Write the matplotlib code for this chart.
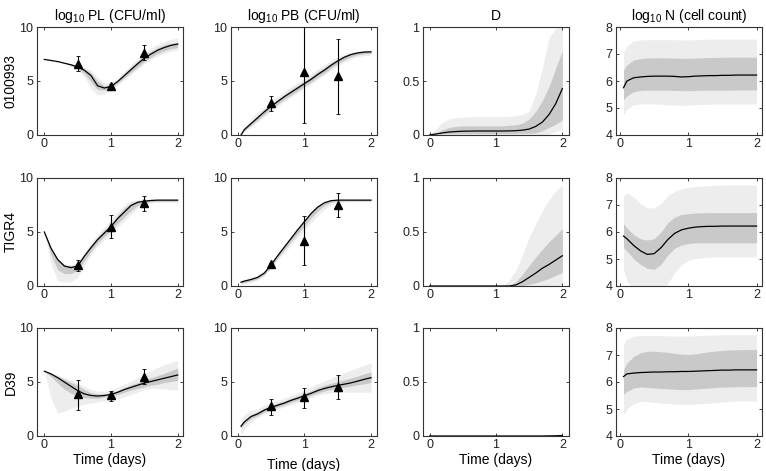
import numpy as np
import matplotlib
matplotlib.use('Agg')
import matplotlib.pyplot as plt

plt.rcParams['font.family'] = ['Liberation Sans', 'DejaVu Sans']
plt.rcParams['mathtext.fontset'] = 'custom'
plt.rcParams['mathtext.rm'] = 'Liberation Sans'

# time grids
t_a = [0.0, 0.1, 0.2, 0.3, 0.4, 0.5, 0.6, 0.7, 0.8, 0.9, 1.0,
       1.1, 1.2, 1.3, 1.4, 1.5, 1.6, 1.7, 1.8, 1.9, 2.0]
t_b = [0.05, 0.1, 0.2, 0.3, 0.4, 0.5, 0.6, 0.7, 0.8, 0.9, 1.0,
       1.1, 1.2, 1.3, 1.4, 1.5, 1.6, 1.7, 1.8, 1.9, 2.0]

strains = ['0100993', 'TIGR4', 'D39']
titles = ['log$_{10}$ PL (CFU/ml)', 'log$_{10}$ PB (CFU/ml)', 'D',
          'log$_{10}$ N (cell count)']

# observed data (t, mean, lower, upper)
obs_t = [0.5, 1.0, 1.5]
pl_obs = [[6.6, 4.55, 7.6], [1.95, 5.5, 7.7], [3.9, 3.8, 5.5]]
pl_lo  = [[5.9, 4.4, 6.9], [1.4, 4.45, 6.9], [2.45, 3.25, 4.8]]
pl_hi  = [[7.3, 4.7, 8.3], [2.45, 6.6, 8.3], [5.2, 4.2, 6.2]]
pb_obs = [[3.0, 5.8, 5.5], [2.05, 4.2, 7.5], [2.75, 3.6, 4.58]]
pb_lo  = [[2.25, 1.15, 1.9], [1.95, 1.9, 6.4], [1.97, 2.58, 3.38]]
pb_hi  = [[3.65, 10.5, 8.9], [2.15, 6.45, 8.65], [3.4, 4.43, 5.66]]

# ---- PL ----
pl1_med = [7.0, 6.9, 6.8, 6.65, 6.5, 6.3, 6.0, 5.5, 4.55, 4.35, 4.5, 4.95, 5.5, 6.05, 6.6, 7.1, 7.5, 7.85, 8.1, 8.3, 8.42]
pl1_ilo = [7.0, 6.9, 6.8, 6.65, 6.45, 6.15, 5.7, 4.9, 4.2, 4.15, 4.35, 4.8, 5.3, 5.8, 6.3, 6.8, 7.2, 7.55, 7.8, 8.0, 8.1]
pl1_ihi = [7.0, 6.9, 6.8, 6.65, 6.55, 6.4, 6.15, 5.75, 5.0, 4.55, 4.65, 5.1, 5.7, 6.3, 6.85, 7.35, 7.75, 8.1, 8.35, 8.5, 8.6]
pl1_olo = [7.0, 6.9, 6.8, 6.6, 6.35, 6.0, 5.4, 4.3, 3.7, 3.8, 4.2, 4.6, 5.1, 5.6, 6.1, 6.6, 7.0, 7.3, 7.55, 7.75, 7.85]
pl1_ohi = [7.0, 6.9, 6.8, 6.7, 6.6, 6.5, 6.3, 6.0, 5.3, 4.8, 4.85, 5.3, 5.9, 6.5, 7.1, 7.6, 8.05, 8.4, 8.65, 8.85, 9.0]

pl2_med = [5.0, 3.5, 2.45, 1.85, 1.7, 1.85, 2.75, 3.55, 4.3, 4.9, 5.5, 6.25, 6.85, 7.45, 7.75, 7.85, 7.92, 7.95, 7.95, 7.95, 7.95]
pl2_ilo = [5.0, 2.9, 1.5, 1.15, 1.15, 1.45, 2.35, 3.2, 4.0, 4.6, 5.15, 5.8, 6.4, 7.0, 7.45, 7.7, 7.8, 7.85, 7.85, 7.85, 7.85]
pl2_ihi = [5.0, 3.55, 2.5, 1.95, 1.85, 2.0, 2.95, 3.8, 4.55, 5.2, 5.8, 6.55, 7.2, 7.7, 7.9, 7.95, 7.98, 8.0, 8.0, 8.0, 8.0]
pl2_olo = [5.0, 2.0, 0.5, 0.35, 0.4, 0.8, 1.9, 2.9, 3.7, 4.3, 4.85, 5.45, 6.05, 6.65, 7.2, 7.5, 7.7, 7.75, 7.75, 7.75, 7.75]
pl2_ohi = [5.0, 3.6, 2.6, 2.05, 1.95, 2.15, 3.1, 4.0, 4.8, 5.45, 6.1, 6.85, 7.5, 7.9, 8.0, 8.0, 8.02, 8.05, 8.05, 8.05, 8.05]

pl3_med = [6.0, 5.75, 5.4, 5.0, 4.6, 4.2, 3.9, 3.75, 3.7, 3.75, 3.85, 4.05, 4.3, 4.5, 4.7, 4.9, 5.05, 5.2, 5.35, 5.5, 5.65]
pl3_ilo = [6.0, 5.5, 4.9, 4.35, 3.95, 3.7, 3.55, 3.5, 3.5, 3.6, 3.7, 3.85, 4.05, 4.25, 4.4, 4.55, 4.7, 4.8, 4.95, 5.05, 5.15]
pl3_ihi = [6.0, 5.8, 5.55, 5.25, 4.95, 4.7, 4.3, 4.0, 3.9, 3.9, 4.0, 4.2, 4.5, 4.75, 4.95, 5.2, 5.4, 5.6, 5.8, 6.05, 6.3]
pl3_olo = [6.0, 3.5, 2.1, 2.3, 2.55, 2.8, 2.95, 3.05, 3.15, 3.25, 3.3, 3.45, 3.65, 3.85, 4.05, 4.3, 4.4, 4.4, 4.35, 4.3, 4.25]
pl3_ohi = [6.0, 5.85, 5.65, 5.4, 5.15, 4.9, 4.6, 4.3, 4.15, 4.15, 4.25, 4.5, 4.8, 5.1, 5.4, 5.75, 6.05, 6.35, 6.6, 6.8, 7.0]

# ---- PB ----
pb1_med = [0.0, 0.5, 1.05, 1.6, 2.15, 2.65, 3.1, 3.55, 3.95, 4.35, 4.75, 5.15, 5.6, 6.0, 6.45, 6.85, 7.2, 7.45, 7.6, 7.68, 7.7]
pb1_ilo = [0.0, 0.4, 0.9, 1.4, 1.9, 2.4, 2.85, 3.3, 3.7, 4.1, 4.5, 4.9, 5.35, 5.75, 6.2, 6.6, 6.95, 7.25, 7.42, 7.52, 7.55]
pb1_ihi = [0.0, 0.6, 1.2, 1.8, 2.35, 2.85, 3.3, 3.75, 4.2, 4.6, 5.0, 5.4, 5.85, 6.25, 6.7, 7.05, 7.35, 7.55, 7.68, 7.75, 7.77]
pb1_olo = [0.0, 0.3, 0.75, 1.2, 1.7, 2.2, 2.65, 3.1, 3.5, 3.9, 4.3, 4.7, 5.15, 5.55, 6.0, 6.4, 6.75, 7.05, 7.25, 7.35, 7.4]
pb1_ohi = [0.1, 0.8, 1.5, 2.1, 2.65, 3.15, 3.6, 4.05, 4.45, 4.85, 5.25, 5.65, 6.1, 6.5, 6.9, 7.25, 7.5, 7.68, 7.78, 7.83, 7.85]

pb2_med = [0.35, 0.45, 0.6, 0.8, 1.2, 1.95, 2.8, 3.6, 4.4, 5.2, 5.95, 6.7, 7.3, 7.7, 7.9, 7.95, 7.95, 7.95, 7.95, 7.95, 7.95]
pb2_ilo = [0.25, 0.33, 0.47, 0.66, 1.05, 1.78, 2.6, 3.38, 4.12, 4.85, 5.55, 6.3, 6.95, 7.45, 7.75, 7.85, 7.88, 7.88, 7.88, 7.88, 7.88]
pb2_ihi = [0.45, 0.55, 0.7, 0.9, 1.3, 2.05, 2.92, 3.72, 4.52, 5.32, 6.08, 6.82, 7.42, 7.8, 7.95, 7.98, 7.98, 7.98, 7.98, 7.98, 7.98]
pb2_olo = [0.12, 0.2, 0.35, 0.55, 0.95, 1.65, 2.4, 3.1, 3.8, 4.5, 5.15, 5.85, 6.5, 7.1, 7.5, 7.7, 7.78, 7.8, 7.8, 7.8, 7.8]
pb2_ohi = [0.55, 0.65, 0.8, 1.0, 1.4, 2.12, 2.98, 3.8, 4.6, 5.4, 6.15, 6.9, 7.5, 7.85, 8.0, 8.02, 8.02, 8.02, 8.02, 8.02, 8.02]

pb3_med = [0.9, 1.3, 1.8, 2.05, 2.4, 2.65, 2.85, 3.05, 3.3, 3.5, 3.72, 3.95, 4.2, 4.4, 4.55, 4.68, 4.8, 4.92, 5.08, 5.25, 5.4]
pb3_ilo = [0.75, 1.12, 1.6, 1.88, 2.22, 2.48, 2.68, 2.88, 3.12, 3.32, 3.54, 3.76, 3.98, 4.16, 4.3, 4.42, 4.52, 4.62, 4.74, 4.84, 4.95]
pb3_ihi = [1.05, 1.48, 1.98, 2.24, 2.58, 2.84, 3.04, 3.25, 3.5, 3.72, 3.95, 4.2, 4.47, 4.7, 4.88, 5.04, 5.2, 5.36, 5.55, 5.75, 5.92]
pb3_olo = [0.1, 0.6, 1.3, 1.7, 2.05, 2.3, 2.5, 2.7, 2.9, 3.1, 3.35, 3.55, 3.75, 3.9, 4.0, 4.05, 4.05, 4.05, 4.05, 4.05, 4.05]
pb3_ohi = [1.5, 2.0, 2.35, 2.55, 2.85, 3.1, 3.3, 3.5, 3.75, 4.0, 4.25, 4.55, 4.85, 5.1, 5.35, 5.6, 5.85, 6.1, 6.35, 6.55, 6.75]

# ---- D ----
d1_med = [0.0, 0.01, 0.02, 0.028, 0.032, 0.035, 0.036, 0.037, 0.037, 0.037, 0.037, 0.037, 0.038, 0.04, 0.045, 0.055, 0.08, 0.12, 0.19, 0.29, 0.43]
d1_ilo = [0.0, 0.005, 0.01, 0.012, 0.013, 0.013, 0.013, 0.013, 0.013, 0.013, 0.013, 0.013, 0.014, 0.014, 0.015, 0.016, 0.02, 0.04, 0.07, 0.1, 0.14]
d1_ihi = [0.0, 0.02, 0.05, 0.07, 0.08, 0.085, 0.085, 0.085, 0.085, 0.085, 0.085, 0.085, 0.09, 0.095, 0.11, 0.15, 0.22, 0.32, 0.45, 0.62, 0.78]
d1_olo = [0.0, 0.0, 0.0, 0.0, 0.0, 0.0, 0.0, 0.0, 0.0, 0.0, 0.0, 0.0, 0.0, 0.0, 0.0, 0.0, 0.0, 0.0, 0.01, 0.03, 0.05]
d1_ohi = [0.0, 0.06, 0.12, 0.15, 0.16, 0.165, 0.17, 0.17, 0.17, 0.17, 0.17, 0.17, 0.17, 0.18, 0.19, 0.22, 0.38, 0.62, 0.9, 0.99, 1.0]

d2_med = [0.0, 0.0, 0.0, 0.0, 0.0, 0.0, 0.0, 0.0, 0.0, 0.0, 0.0, 0.0, 0.0, 0.01, 0.04, 0.08, 0.12, 0.165, 0.2, 0.24, 0.28]
d2_ilo = [0.0, 0.0, 0.0, 0.0, 0.0, 0.0, 0.0, 0.0, 0.0, 0.0, 0.0, 0.0, 0.0, 0.0, 0.005, 0.015, 0.03, 0.05, 0.07, 0.1, 0.125]
d2_ihi = [0.0, 0.0, 0.0, 0.0, 0.0, 0.0, 0.0, 0.0, 0.0, 0.0, 0.0, 0.0, 0.0, 0.04, 0.11, 0.19, 0.27, 0.34, 0.41, 0.47, 0.53]
d2_olo = [0.0] * 21
d2_ohi = [0.0, 0.0, 0.0, 0.0, 0.0, 0.0, 0.0, 0.0, 0.0, 0.0, 0.0, 0.0, 0.05, 0.15, 0.29, 0.45, 0.58, 0.7, 0.8, 0.88, 0.93]

d3_med = [0.0, 0.0, 0.0, 0.0, 0.0, 0.0, 0.0, 0.0, 0.0, 0.0, 0.0, 0.0, 0.0, 0.0, 0.0, 0.0, 0.0, 0.0, 0.001, 0.002, 0.004]
d3_ilo = [0.0] * 21
d3_ihi = [0.0, 0.0, 0.0, 0.0, 0.0, 0.0, 0.0, 0.0, 0.0, 0.0, 0.0, 0.0, 0.0, 0.0, 0.0, 0.0, 0.0, 0.0, 0.002, 0.005, 0.01]
d3_olo = [0.0] * 21
d3_ohi = [0.0, 0.0, 0.0, 0.0, 0.0, 0.0, 0.0, 0.0, 0.0, 0.0, 0.0, 0.0, 0.0, 0.0, 0.0, 0.0, 0.0, 0.0, 0.005, 0.012, 0.025]

# ---- N ----
n1_med = [5.75, 6.0, 6.12, 6.15, 6.17, 6.18, 6.18, 6.18, 6.17, 6.15, 6.16, 6.18, 6.19, 6.2, 6.2, 6.21, 6.21, 6.22, 6.22, 6.22, 6.22]
n1_ilo = [5.3, 5.45, 5.6, 5.65, 5.66, 5.66, 5.66, 5.66, 5.65, 5.64, 5.64, 5.65, 5.66, 5.66, 5.66, 5.66, 5.66, 5.67, 5.67, 5.67, 5.67]
n1_ihi = [6.4, 6.6, 6.78, 6.83, 6.85, 6.86, 6.86, 6.86, 6.85, 6.84, 6.84, 6.85, 6.86, 6.87, 6.87, 6.88, 6.88, 6.88, 6.88, 6.88, 6.88]
n1_olo = [4.75, 4.95, 5.12, 5.15, 5.16, 5.15, 5.14, 5.12, 5.11, 5.1, 5.11, 5.12, 5.13, 5.14, 5.15, 5.15, 5.15, 5.15, 5.15, 5.15, 5.15]
n1_ohi = [7.05, 7.3, 7.48, 7.52, 7.53, 7.53, 7.53, 7.53, 7.53, 7.52, 7.52, 7.53, 7.54, 7.55, 7.55, 7.55, 7.55, 7.55, 7.55, 7.55, 7.55]

n2_med = [5.85, 5.75, 5.5, 5.3, 5.17, 5.2, 5.42, 5.72, 5.95, 6.08, 6.14, 6.18, 6.2, 6.21, 6.21, 6.22, 6.22, 6.22, 6.22, 6.22, 6.22]
n2_ilo = [5.42, 5.3, 5.0, 4.8, 4.65, 4.62, 4.8, 5.15, 5.4, 5.52, 5.57, 5.6, 5.6, 5.6, 5.6, 5.6, 5.6, 5.6, 5.6, 5.6, 5.6]
n2_ihi = [6.3, 6.15, 5.9, 5.75, 5.7, 5.75, 6.0, 6.35, 6.55, 6.65, 6.68, 6.7, 6.71, 6.72, 6.72, 6.72, 6.72, 6.72, 6.72, 6.72, 6.72]
n2_olo = [4.6, 4.2, 3.8, 3.6, 3.6, 3.6, 3.75, 4.1, 4.5, 4.8, 4.95, 5.02, 5.05, 5.07, 5.08, 5.08, 5.08, 5.08, 5.08, 5.08, 5.08]
n2_ohi = [7.35, 7.45, 7.3, 7.05, 6.9, 6.89, 7.05, 7.35, 7.5, 7.6, 7.65, 7.68, 7.7, 7.72, 7.73, 7.74, 7.74, 7.74, 7.74, 7.74, 7.74]

n3_med = [6.2, 6.3, 6.33, 6.35, 6.36, 6.37, 6.37, 6.38, 6.38, 6.39, 6.39, 6.4, 6.41, 6.42, 6.43, 6.44, 6.44, 6.45, 6.45, 6.45, 6.45]
n3_ilo = [5.55, 5.65, 5.78, 5.82, 5.8, 5.78, 5.76, 5.75, 5.73, 5.72, 5.72, 5.74, 5.76, 5.78, 5.8, 5.81, 5.82, 5.82, 5.83, 5.83, 5.83]
n3_ihi = [6.45, 6.7, 6.95, 7.08, 7.14, 7.14, 7.12, 7.1, 7.06, 7.03, 7.02, 7.04, 7.08, 7.12, 7.15, 7.17, 7.18, 7.19, 7.2, 7.2, 7.2]
n3_olo = [4.8, 5.0, 5.2, 5.28, 5.28, 5.25, 5.22, 5.2, 5.18, 5.17, 5.17, 5.18, 5.2, 5.22, 5.24, 5.26, 5.28, 5.3, 5.3, 5.3, 5.3]
n3_ohi = [7.4, 7.6, 7.7, 7.72, 7.72, 7.72, 7.72, 7.71, 7.7, 7.7, 7.7, 7.71, 7.72, 7.73, 7.74, 7.75, 7.75, 7.75, 7.75, 7.75, 7.75]

panels = [
    [(t_a, pl1_med, pl1_ilo, pl1_ihi, pl1_olo, pl1_ohi),
     (t_b, pb1_med, pb1_ilo, pb1_ihi, pb1_olo, pb1_ohi),
     (t_a, d1_med, d1_ilo, d1_ihi, d1_olo, d1_ohi),
     (t_b, n1_med, n1_ilo, n1_ihi, n1_olo, n1_ohi)],
    [(t_a, pl2_med, pl2_ilo, pl2_ihi, pl2_olo, pl2_ohi),
     (t_b, pb2_med, pb2_ilo, pb2_ihi, pb2_olo, pb2_ohi),
     (t_a, d2_med, d2_ilo, d2_ihi, d2_olo, d2_ohi),
     (t_b, n2_med, n2_ilo, n2_ihi, n2_olo, n2_ohi)],
    [(t_a, pl3_med, pl3_ilo, pl3_ihi, pl3_olo, pl3_ohi),
     (t_b, pb3_med, pb3_ilo, pb3_ihi, pb3_olo, pb3_ohi),
     (t_a, d3_med, d3_ilo, d3_ihi, d3_olo, d3_ohi),
     (t_b, n3_med, n3_ilo, n3_ihi, n3_olo, n3_ohi)],
]

LIGHT = '#ededed'
DARK = '#c9c9c9'
W, H = 766, 471
col_left = [37, 231, 423, 616]
row_top = [27, 178, 328]
aw, ah = 146, 108
xlims = [(-0.11, 2.08), (-0.1, 2.09), (-0.1, 2.1), (-0.06, 2.08)]
ylims = [(0, 10), (0, 10), (0, 1), (4, 8)]
yticks = [[0, 5, 10], [0, 5, 10], [0, 0.5, 1], [4, 5, 6, 7, 8]]
yticklabels = [['0', '5', '10'], ['0', '5', '10'], ['0', '0.5', '1'],
               ['4', '5', '6', '7', '8']]

fig = plt.figure(figsize=(W / 100, H / 100), dpi=100)

for r in range(3):
    for c in range(4):
        ax = fig.add_axes([col_left[c] / W, 1 - (row_top[r] + ah) / H, aw / W, ah / H])
        t, med, ilo, ihi, olo, ohi = panels[r][c]
        ax.fill_between(t, olo, ohi, color=LIGHT, lw=0)
        ax.fill_between(t, ilo, ihi, color=DARK, lw=0)
        ax.plot(t, med, color='black', lw=0.9)
        if c == 0:
            m, lo, hi = pl_obs[r], pl_lo[r], pl_hi[r]
        elif c == 1:
            m, lo, hi = pb_obs[r], pb_lo[r], pb_hi[r]
        if c < 2:
            yerr = [np.array(m) - np.array(lo), np.array(hi) - np.array(m)]
            ax.errorbar(obs_t, m, yerr=yerr, fmt='^', color='black', ms=5.5,
                        elinewidth=0.8, capsize=1.5, capthick=0.6, zorder=5)
        ax.set_xlim(*xlims[c])
        ax.set_ylim(*ylims[c])
        ax.set_xticks([0, 1, 2])
        ax.set_xticklabels(['0', '1', '2'])
        ax.set_yticks(yticks[c])
        ax.set_yticklabels(yticklabels[c])
        ax.tick_params(direction='in', top=True, right=True, length=2.5,
                       width=0.6, labelsize=9, pad=2.5, colors='#222222')
        for s in ax.spines.values():
            s.set_linewidth(0.8)
            s.set_color('#333333')
        if r == 0:
            ax.set_title(titles[c], fontsize=10, pad=5)
        if r == 2:
            ax.set_xlabel('Time (days)', fontsize=10,
                          labelpad=5 if c == 1 else 1)
        if c == 0:
            fig.text(11 / W, 1 - (row_top[r] + ah / 2) / H, strains[r],
                     rotation=90, ha='center', va='center', fontsize=10)

fig.savefig('out.png', dpi=100)
